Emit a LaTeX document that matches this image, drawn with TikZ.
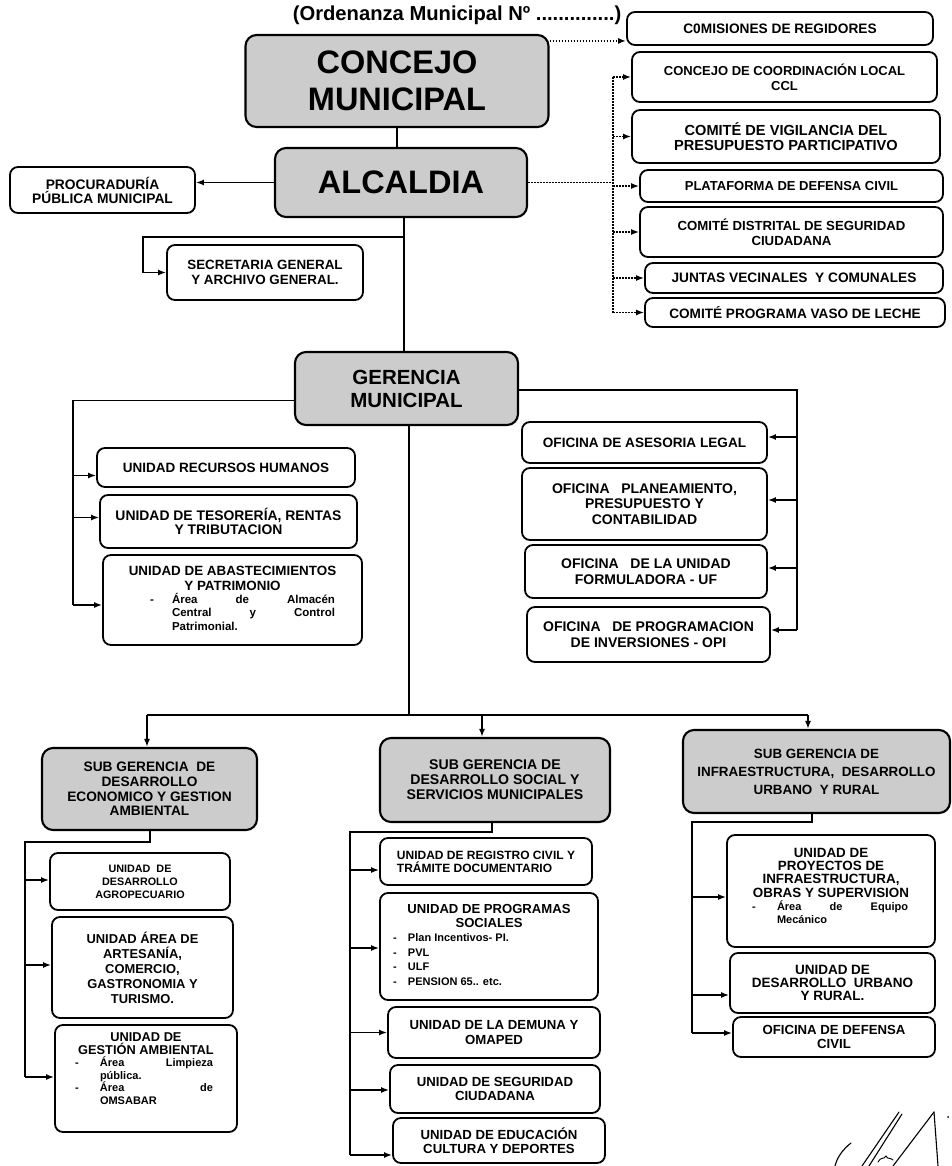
\documentclass[tikz,border=0pt]{standalone}
\usepackage{fontspec}
\setmainfont{Liberation Sans}
\usetikzlibrary{arrows.meta}
\newcommand\fs[2]{\fontsize{#1pt}{#2pt}\selectfont}
\newcommand\bline[3]{\par\noindent\rlap{\hspace*{#1}-}\hspace*{#2}#3}
\newcommand\iline[2]{\par\noindent\hspace*{#1}#2}
\tikzset{
  box/.style={draw, line width=1.8pt, rounded corners=8pt, fill=white, align=center, inner sep=1pt},
  gbox/.style={box, fill=black!20, line width=2.1pt, rounded corners=11pt},
  ln/.style={line width=1.7pt},
  arr/.style={ln, -{Latex[length=8pt,width=6pt]}},
  dotl/.style={line width=1.8pt, dash pattern=on 1.6pt off 1.4pt},
  dotarr/.style={dotl, -{Latex[length=8pt,width=6pt]}},
}
\begin{document}
\begin{tikzpicture}[x=1pt,y=-1pt]
\fill[white] (0,0) rectangle (951,1166);
\useasboundingbox (0,0) rectangle (951,1166);

% ---- title
\node[font={\bfseries\fs{20.2}{22}}] (title) at (457,15) {(Ordenanza Municipal Nº ..............)};

% ---- top
\node[gbox, minimum width=303pt, minimum height=92pt, font={\bfseries\fs{32.5}{37}}] (concejo) at (397,81) {CONCEJO\\MUNICIPAL};
\node[gbox, minimum width=252pt, minimum height=69pt, font={\bfseries\fs{32.5}{37}}] (alcaldia) at (401,182.5) {ALCALDIA};
\node[box, minimum width=185pt, minimum height=46pt, font={\bfseries\fs{13.8}{14}}] (procu) at (102.5,190) {PROCURADURÍA\\PÚBLICA MUNICIPAL};
\node[box, minimum width=196pt, minimum height=55pt, font={\bfseries\fs{13.4}{15}}] (secret) at (265,272.5) {SECRETARIA GENERAL\\Y ARCHIVO GENERAL.};

% ---- right column
\node[box, minimum width=306pt, minimum height=33pt, font={\bfseries\fs{13.7}{15}}] (comis) at (780,28.5) {C0MISIONES DE REGIDORES};
\node[box, minimum width=305pt, minimum height=50pt, font={\bfseries\fs{13}{15}}] (ccl) at (784.5,77) {CONCEJO DE COORDINACIÓN LOCAL\\CCL};
\node[box, minimum width=308pt, minimum height=53pt, font={\bfseries\fs{14.6}{15.5}}] (vigil) at (786,136.5) {COMITÉ DE VIGILANCIA DEL\\PRESUPUESTO PARTICIPATIVO};
\node[box, minimum width=303pt, minimum height=32pt, font={\bfseries\fs{13}{15}}] (plataf) at (791.5,186) {PLATAFORMA DE DEFENSA CIVIL};
\node[box, minimum width=303pt, minimum height=50pt, font={\bfseries\fs{13.2}{15}}] (distrital) at (791.5,232) {COMITÉ DISTRITAL DE SEGURIDAD\\CIUDADANA};
\node[box, minimum width=298pt, minimum height=30pt, font={\bfseries\fs{13.7}{15}}] (juntas) at (794,278) {JUNTAS VECINALES\ \ Y COMUNALES};
\node[box, minimum width=300pt, minimum height=29pt, font={\bfseries\fs{13.6}{15}}] (vaso) at (795,312.5) {COMITÉ PROGRAMA VASO DE LECHE};

% ---- gerencia
\node[gbox, minimum width=223pt, minimum height=73pt, font={\bfseries\fs{20.5}{23}}] (gerencia) at (406.5,388.5) {GERENCIA\\MUNICIPAL};
\node[box, minimum width=258pt, minimum height=39pt, font={\bfseries\fs{13.5}{14}}] (rrhh) at (226,467.5) {UNIDAD RECURSOS HUMANOS};
\node[box, minimum width=257pt, minimum height=53pt, font={\bfseries\fs{13.9}{13.5}}] (teso) at (228.5,521.5) {UNIDAD DE TESORERÍA, RENTAS\\Y TRIBUTACION};
\node[box, minimum width=259pt, minimum height=90pt, inner sep=0pt, font=\bfseries] (abast) at (232.5,600) {\begin{minipage}{259pt}{\centering\fs{13.4}{15}UNIDAD DE ABASTECIMIENTOS\\Y PATRIMONIO\par}\raggedright\fs{11.5}{13.3}%
\bline{47pt}{69pt}{\makebox[163pt][s]{Área\hfill de\hfill Almacén}}%
\iline{69pt}{\makebox[163pt][s]{Central\hfill y\hfill Control}}%
\iline{69pt}{Patrimonial.}\par\vspace*{4pt}\end{minipage}};

\node[box, minimum width=245pt, minimum height=41pt, font={\bfseries\fs{13.6}{15}}] (legal) at (644.5,442.5) {OFICINA DE ASESORIA LEGAL};
\node[box, minimum width=245pt, minimum height=72pt, font={\bfseries\fs{14}{15.5}}] (plan) at (644.5,504) {OFICINA\ \ \ PLANEAMIENTO,\\PRESUPUESTO Y\\CONTABILIDAD};
\node[box, minimum width=242pt, minimum height=53pt, font={\bfseries\fs{14}{15.5}}] (uf) at (646,571.5) {OFICINA\ \ \ DE LA UNIDAD\\FORMULADORA - UF};
\node[box, minimum width=243pt, minimum height=55pt, font={\bfseries\fs{14}{15.5}}] (opi) at (648.5,634.5) {OFICINA\ \ \ DE PROGRAMACION\\DE INVERSIONES - OPI};

% ---- sub gerencias
\node[gbox, minimum width=215pt, minimum height=82pt, font={\bfseries\fs{13.7}{14.7}}] (sgl) at (149.5,789) {SUB GERENCIA\ \ DE\\DESARROLLO\\ECONOMICO Y GESTION\\AMBIENTAL};
\node[gbox, minimum width=230pt, minimum height=84pt, font={\bfseries\fs{14.1}{15}}] (sgm) at (495,780) {SUB GERENCIA DE\\DESARROLLO SOCIAL Y\\SERVICIOS MUNICIPALES};
\node[gbox, minimum width=267pt, minimum height=83pt, font={\bfseries\fs{13.4}{18}}] (sgr) at (816.5,771.5) {SUB GERENCIA DE\\INFRAESTRUCTURA,\ \ DESARROLLO\\URBANO\ \ Y RURAL};

% ---- left children
\node[box, minimum width=180pt, minimum height=57pt, font={\bfseries\fs{10.8}{13}}] (agro) at (140,881.5) {UNIDAD\ \ DE\\DESARROLLO\\AGROPECUARIO};
\node[box, minimum width=181pt, minimum height=101pt, font={\bfseries\fs{12.9}{15}}] (artes) at (142.5,967.5) {UNIDAD ÁREA DE\\ARTESANÍA,\\COMERCIO,\\GASTRONOMIA Y\\TURISMO.};
\node[box, minimum width=182pt, minimum height=107pt, inner sep=0pt, font=\bfseries] (gestion) at (146,1078.5) {\begin{minipage}{182pt}{\centering\fs{12.8}{12.8}UNIDAD DE\\GESTIÓN AMBIENTAL\par}\raggedright\fs{11}{12.6}%
\bline{20pt}{45pt}{\makebox[113pt][s]{Área\hfill Limpieza}}%
\iline{45pt}{pública.}%
\bline{20pt}{45pt}{\makebox[113pt][s]{Área\hfill de}}%
\iline{45pt}{OMSABAR}\par\vspace*{20pt}\end{minipage}};

% ---- middle children
\node[box, minimum width=212pt, minimum height=47pt, align=left, font={\bfseries\fs{12}{13}}] (regcivil) at (486,861.5) {UNIDAD DE REGISTRO CIVIL Y\\TRÁMITE DOCUMENTARIO};
\node[box, minimum width=218pt, minimum height=107pt, inner sep=0pt, font=\bfseries] (progsoc) at (489,946.5) {\begin{minipage}{218pt}{\centering\fs{13.1}{14}UNIDAD DE PROGRAMAS\\SOCIALES\par}\raggedright\fs{11}{14.5}%
\bline{13pt}{28pt}{Plan Incentivos- PI.}%
\bline{13pt}{28pt}{PVL}%
\bline{13pt}{28pt}{ULF}%
\bline{13pt}{28pt}{PENSION 65.. etc.}\par\vspace*{4pt}\end{minipage}};
\node[box, minimum width=212pt, minimum height=51pt, font={\bfseries\fs{13.2}{14.5}}] (demuna) at (494,1032.5) {UNIDAD DE LA DEMUNA Y\\OMAPED};
\node[box, minimum width=210pt, minimum height=48pt, font={\bfseries\fs{13.2}{14.5}}] (segciu) at (495,1089) {UNIDAD DE SEGURIDAD\\CIUDADANA};
\node[box, minimum width=212pt, minimum height=45pt, font={\bfseries\fs{13.2}{14.5}}] (educ) at (499,1140.5) {UNIDAD DE EDUCACIÓN\\CULTURA Y DEPORTES};

% ---- right children
\node[box, minimum width=208pt, minimum height=112pt, inner sep=0pt, font=\bfseries] (proy) at (831,891) {\begin{minipage}{208pt}{\centering\fs{13.4}{13.4}UNIDAD DE\\PROYECTOS DE\\INFRAESTRUCTURA,\\OBRAS Y SUPERVISION\par}\raggedright\fs{11}{13.3}%
\bline{25pt}{50pt}{\makebox[131pt][s]{Área\hfill de\hfill Equipo}}%
\iline{50pt}{Mecánico}\par\vspace*{10pt}\end{minipage}};
\node[box, minimum width=205pt, minimum height=60pt, font={\bfseries\fs{13.5}{13.4}}] (urbano) at (832.5,983) {UNIDAD DE\\DESARROLLO\ \ URBANO\\Y RURAL.};
\node[box, minimum width=202pt, minimum height=40pt, font={\bfseries\fs{13.2}{14}}] (defciv) at (834,1037) {OFICINA DE DEFENSA\\CIVIL};

% ================= connectors
\coordinate (tr) at (404,0);
\draw[ln] (concejo.south) -- (concejo.south |- alcaldia.north);
\draw[ln] (alcaldia.south -| tr) -- (gerencia.north -| tr);
\draw[arr] (alcaldia.west) -- (alcaldia.west -| procu.east);
\coordinate (sc) at (143,237);
\draw[arr] (tr |- sc) -- (sc) |- (secret.west);

% dotted
\coordinate (dv) at (613,0);
\draw[dotl] (dv |- ccl.west) -- (dv |- vaso.west);
\draw[dotl] (alcaldia.east) -- (alcaldia.east -| dv);
\foreach \n in {ccl,vigil,plataf,distrital,juntas,vaso} \draw[dotarr] (dv |- \n.west) -- (\n.west);
\coordinate (c1) at ([yshift=-7pt]concejo.north east);
\draw[dotarr] (c1) -- (c1 -| comis.west);

% gerencia left
\coordinate (g1) at ([yshift=-12pt]gerencia.west);
\coordinate (lv) at (73,605);
\draw[ln] (g1) -| (lv);
\foreach \n/\s in {rrhh/-8pt, teso/4pt, abast/-5pt} {\coordinate (t) at ([yshift=\s]\n.west); \draw[arr] (t -| lv) -- (t);}
% gerencia right
\coordinate (g2) at ([yshift=-1.5pt]gerencia.east);
\coordinate (rv) at (797,630);
\draw[ln] (g2) -| (rv);
\foreach \n/\s in {legal/5.5pt, plan/4pt, uf/3.5pt, opi/4.5pt} {\coordinate (t) at ([yshift=\s]\n.east); \draw[arr] (t -| rv) -- (t);}

% bottom distribution
\coordinate (hb) at (409,715);
\draw[ln] (gerencia.south -| hb) -- (hb);
\coordinate (a1) at ([xshift=-2.5pt]sgl.north);
\coordinate (a2) at ([xshift=-13pt]sgm.north);
\coordinate (a3) at ([xshift=-8.5pt]sgr.north);
\draw[ln] (a1 |- hb) -- (a3 |- hb);
\foreach \a in {a1,a2,a3} \draw[arr] (\a |- hb) -- (\a);

% left children
\coordinate (l1) at ([xshift=0.5pt]sgl.south);
\coordinate (l2) at (25,842);
\coordinate (l3) at (25,1077);
\draw[ln] (l1) |- (l2) -- (l3);
\foreach \n/\s in {agro/1.5pt, artes/2.5pt, gestion/1.5pt} {\coordinate (t) at ([yshift=\s]\n.west); \draw[arr] (t -| l2) -- (t);}

% middle children
\coordinate (m1) at ([xshift=-3pt]sgm.south);
\coordinate (m2) at (350,832);
\coordinate (m3) at (350,1155);
\draw[ln] (m1) |- (m2) -- (m3);
\foreach \n/\s in {regcivil/-8.5pt, progsoc/-1.5pt, demuna/0pt, segciu/-1pt, educ/-14.5pt} {\coordinate (t) at ([yshift=\s]\n.west); \draw[arr] (t -| m2) -- (t);}

% right children
\coordinate (r1) at ([xshift=-4.5pt]sgr.south);
\coordinate (r2) at (692,822);
\coordinate (r3) at (692,1033);
\draw[ln] (r1) |- (r2) -- (r3);
\foreach \n/\s in {proy/-6pt, urbano/-12pt, defciv/4pt} {\coordinate (t) at ([yshift=\s]\n.west); \draw[arr] (t -| r2) -- (t);}

% signature
\draw[line width=1.1pt, line cap=round] (851,1143) .. controls (842,1150) and (837,1158) .. (835,1166);
\draw[line width=1.1pt, line cap=round] (899,1112) -- (862,1166);
\draw[line width=1.1pt, line cap=round] (902,1114) -- (869,1166);
\draw[line width=1.1pt, line cap=round] (934,1112) -- (893,1166);
\draw[line width=1.1pt, line cap=round] (934,1112) -- (938,1166);
\draw[line width=0.9pt, line cap=round] (878,1162) .. controls (881,1156) and (884,1160) .. (886,1156) .. controls (888,1160) and (890,1157) .. (893,1160);
\fill (948,1117) circle (1pt);
\end{tikzpicture}
\end{document}
